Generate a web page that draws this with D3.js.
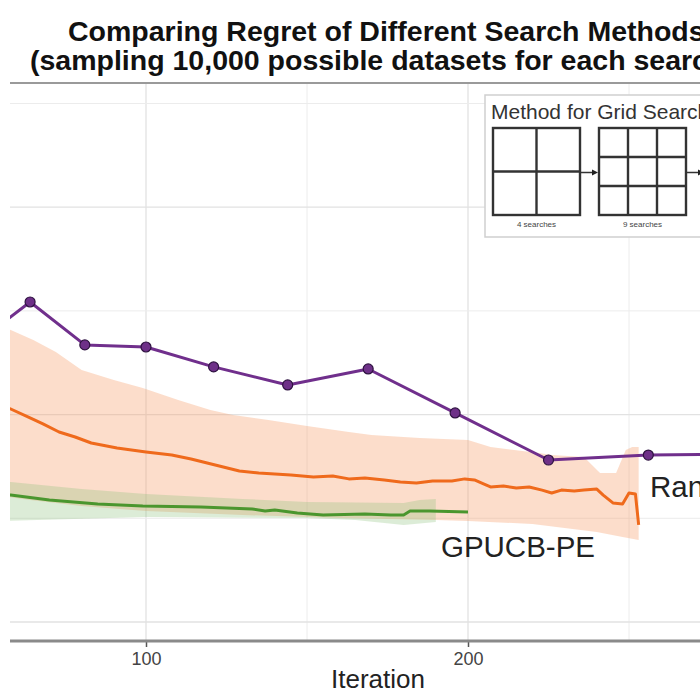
<!DOCTYPE html>
<html>
<head>
<meta charset="utf-8">
<script src="https://cdn.jsdelivr.net/npm/d3@7/dist/d3.min.js"></script>
<style>
  html, body { margin: 0; padding: 0; background: #fff; }
  svg { display: block; font-family: "Liberation Sans", Arial, Helvetica, sans-serif; }
</style>
</head>
<body>
<svg id="chart" width="700" height="693"></svg>
<script>
// ---------------- data ----------------
const titleLines = ["Comparing Regret of Different Search Methods",
                    "(sampling 10,000 possible datasets for each search method)"];
const xTicks = [100, 200];
const xGrid = [100, 150, 200, 250];
const yGrid = [0, 5, 10, 15, 20, 25];
const xLabel = "Iteration";

// Grid search (purple): evaluated at perfect squares
const gridIter   = [49, 64, 81, 100, 121, 144, 169, 196, 225, 256, 289];
const gridRegret = [13.65, 15.43, 13.36, 13.26, 12.30, 11.43, 12.20, 10.08, 7.81, 8.05, 8.10];

// Random search (orange) mean and ribbon
const randIter = [55, 58, 64, 68, 73, 78, 83, 91, 100, 108, 114, 119, 124, 129, 135, 140,
                  145, 152, 158, 163, 168, 174, 179, 184, 189, 195, 199, 202, 205, 207, 211,
                  215, 219, 223, 226, 229, 233, 236, 240, 242, 245, 248, 250, 252, 253];
const randMean = [10.37, 10.27, 9.84, 9.55, 9.16, 8.92, 8.63, 8.39, 8.20, 8.05, 7.86, 7.67, 7.47, 7.28, 7.18, 7.14,
                  7.09, 6.99, 7.04, 6.90, 6.94, 6.85, 6.75, 6.70, 6.80, 6.80, 6.90, 6.85, 6.65, 6.51, 6.56,
                  6.46, 6.51, 6.36, 6.22, 6.36, 6.32, 6.36, 6.41, 6.12, 5.74, 5.69, 6.22, 6.17, 4.68];
const randUpIter = [55, 58, 65, 72, 80, 90, 99, 110, 120, 127, 138, 150, 163, 170, 185, 200,
                    207, 222, 226, 236, 241, 246, 249, 251, 253];
const randUpper  = [14.18, 14.08, 13.60, 13.02, 12.15, 11.67, 11.28, 10.70, 10.22, 9.98, 9.74, 9.45, 9.16, 9.02, 8.87, 8.78,
                    8.44, 8.15, 8.05, 7.96, 7.18, 7.18, 8.29, 8.44, 8.44];
const randLoIter = [55, 64, 80, 100, 130, 160, 190, 200, 220, 230, 240, 248, 253];
const randLower  = [6.08, 5.88, 5.59, 5.35, 5.16, 5.01, 4.92, 4.87, 4.73, 4.53, 4.34, 4.10, 3.95];

// GPUCB-PE (green) mean and ribbon
const gpIter = [55, 58, 70, 85, 99, 117, 133, 137, 140, 147, 155, 168, 176, 180, 182, 188, 200];
const gpMean = [6.17, 6.12, 5.88, 5.69, 5.59, 5.55, 5.45, 5.35, 5.40, 5.26, 5.16, 5.21, 5.16, 5.16, 5.35, 5.35, 5.30];
const gpUpIter = [55, 58, 80, 100, 130, 150, 180, 185, 190];
const gpUpper  = [6.80, 6.75, 6.41, 6.17, 5.93, 5.79, 5.74, 5.88, 5.93];
const gpLoIter = [55, 100, 150, 165, 180, 190];
const gpLower  = [4.87, 5.06, 5.01, 4.92, 4.68, 4.82];

const seriesLabels = [{text: "GPUCB-PE", iter: 191.6, value: 3.15},
                      {text: "Random Search", iter: 256.5, value: 6.05}];

const insetTitle = "Method for Grid Search";
const insetGrids = [{n: 2, label: "4 searches"}, {n: 3, label: "9 searches"}];

// ---------------- drawing ----------------
const svg = d3.select("#chart");
const W = 700, H = 693;
const panel = {left: 10, right: 700, top: 83, bottom: 641};

const x = d3.scaleLinear().domain([100, 200]).range([146, 468]);
const y = d3.scaleLinear().domain([0, 25]).range([622, 103.5]);

// title
svg.append("g").selectAll("text").data(titleLines).join("text")
  .attr("x", (d, i) => i === 0 ? 68 : 30)
  .attr("y", (d, i) => i === 0 ? 41 : 70)
  .attr("font-size", 28.5).attr("font-weight", "bold").attr("fill", "#111")
  .text(d => d);

svg.append("clipPath").attr("id", "clip").append("rect")
  .attr("x", panel.left).attr("y", panel.top)
  .attr("width", panel.right - panel.left).attr("height", panel.bottom - panel.top);

const gPanel = svg.append("g").attr("clip-path", "url(#clip)");
gPanel.append("rect").attr("x", panel.left).attr("y", panel.top)
  .attr("width", panel.right - panel.left).attr("height", panel.bottom - panel.top).attr("fill", "#fff");

// gridlines
gPanel.append("g").selectAll("line").data(xGrid).join("line")
  .attr("x1", d => x(d)).attr("x2", d => x(d))
  .attr("y1", panel.top).attr("y2", panel.bottom)
  .attr("stroke", d => d % 100 === 0 ? "#e2e2e2" : "#ececec").attr("stroke-width", d => d % 100 === 0 ? 1.3 : 1);
gPanel.append("g").selectAll("line").data(yGrid).join("line")
  .attr("x1", panel.left).attr("x2", panel.right)
  .attr("y1", d => y(d)).attr("y2", d => y(d))
  .attr("stroke", d => d % 10 === 0 ? "#e2e2e2" : "#ececec").attr("stroke-width", d => d % 10 === 0 ? 1.3 : 1);

// ribbons
function ribbon(upIter, up, loIter, lo) {
  const pts = upIter.map((t, i) => [x(t), y(up[i])]);
  const low = loIter.map((t, i) => [x(t), y(lo[i])]).reverse();
  return "M" + pts.concat(low).map(p => p.join(",")).join("L") + "Z";
}
gPanel.append("path").attr("d", ribbon(randUpIter, randUpper, randLoIter, randLower))
  .attr("fill", "#f7a070").attr("fill-opacity", 0.36);
gPanel.append("path").attr("d", ribbon(gpUpIter, gpUpper, gpLoIter, gpLower))
  .attr("fill", "#8cc07a").attr("fill-opacity", 0.3);

const line = d3.line().x(d => x(d[0])).y(d => y(d[1]));
gPanel.append("path").datum(randIter.map((t, i) => [t, randMean[i]])).attr("d", line)
  .attr("fill", "none").attr("stroke", "#ef6a1c").attr("stroke-width", 3).attr("stroke-linejoin", "round");
gPanel.append("path").datum(gpIter.map((t, i) => [t, gpMean[i]])).attr("d", line)
  .attr("fill", "none").attr("stroke", "#4a962e").attr("stroke-width", 3).attr("stroke-linejoin", "round");

const gridData = gridIter.map((t, i) => [t, gridRegret[i]]);
gPanel.append("path").datum(gridData).attr("d", line)
  .attr("fill", "none").attr("stroke", "#702f8c").attr("stroke-width", 3).attr("stroke-linejoin", "round");
gPanel.append("g").selectAll("circle").data(gridData).join("circle")
  .attr("cx", d => x(d[0])).attr("cy", d => y(d[1])).attr("r", 5)
  .attr("fill", "#6e3088").attr("stroke", "#2e1240").attr("stroke-width", 1.2);

// series labels
svg.append("g").selectAll("text").data(seriesLabels).join("text")
  .attr("x", d => x(d.iter)).attr("y", d => y(d.value))
  .attr("font-size", 29.5).attr("fill", "#222")
  .text(d => d.text);

// inset
const inset = svg.append("g");
inset.append("rect").attr("x", 485).attr("y", 95).attr("width", 300).attr("height", 142)
  .attr("fill", "#fff").attr("stroke", "#cfcfcf").attr("stroke-width", 1.5);
inset.append("text").attr("x", 491).attr("y", 119).attr("font-size", 21).attr("fill", "#333").text(insetTitle);
const boxSize = 87, boxTop = 128, boxGap = 19;
insetGrids.forEach((g, k) => {
  const bx = 493 + k * (boxSize + boxGap);
  const gg = inset.append("g");
  gg.append("rect").attr("x", bx).attr("y", boxTop).attr("width", boxSize).attr("height", boxSize)
    .attr("fill", "#fff").attr("stroke", "#333").attr("stroke-width", 2.4);
  d3.range(1, g.n).forEach(j => {
    const off = boxSize * j / g.n;
    gg.append("line").attr("x1", bx + off).attr("x2", bx + off).attr("y1", boxTop).attr("y2", boxTop + boxSize)
      .attr("stroke", "#333").attr("stroke-width", 2.4);
    gg.append("line").attr("x1", bx).attr("x2", bx + boxSize).attr("y1", boxTop + off).attr("y2", boxTop + off)
      .attr("stroke", "#333").attr("stroke-width", 2.4);
  });
  gg.append("text").attr("x", bx + boxSize / 2).attr("y", boxTop + boxSize + 12)
    .attr("text-anchor", "middle").attr("font-size", 8).attr("fill", "#444").text(g.label);
  // arrow to next
  const ax = bx + boxSize + 1, ay = boxTop + boxSize / 2 + 1;
  gg.append("line").attr("x1", ax).attr("x2", ax + 12).attr("y1", ay).attr("y2", ay)
    .attr("stroke", "#333").attr("stroke-width", 1.5);
  gg.append("path").attr("d", `M${ax + 11},${ay - 3}L${ax + 17},${ay}L${ax + 11},${ay + 3}Z`).attr("fill", "#222");
});

// frame lines
svg.append("line").attr("x1", panel.left).attr("x2", W).attr("y1", panel.top).attr("y2", panel.top)
  .attr("stroke", "#9a9a9a").attr("stroke-width", 2);

// x axis
const xAxis = d3.axisBottom(x).tickValues(xTicks).tickSize(6).tickPadding(5).tickFormat(d3.format("d"));
const gx = svg.append("g").attr("transform", `translate(0,${panel.bottom})`).call(xAxis);
gx.select(".domain").remove();
gx.selectAll(".tick line").attr("stroke", "#555").attr("stroke-width", 1.5);
gx.selectAll(".tick text").attr("font-size", 18).attr("fill", "#444")
  .attr("font-family", "'Liberation Sans', Arial, sans-serif");
svg.append("line").attr("x1", panel.left).attr("x2", W).attr("y1", panel.bottom).attr("y2", panel.bottom)
  .attr("stroke", "#8a8a8a").attr("stroke-width", 3);

svg.append("text").attr("x", 378).attr("y", 688).attr("text-anchor", "middle")
  .attr("font-size", 26).attr("fill", "#222").text(xLabel);
</script>
</body>
</html>
